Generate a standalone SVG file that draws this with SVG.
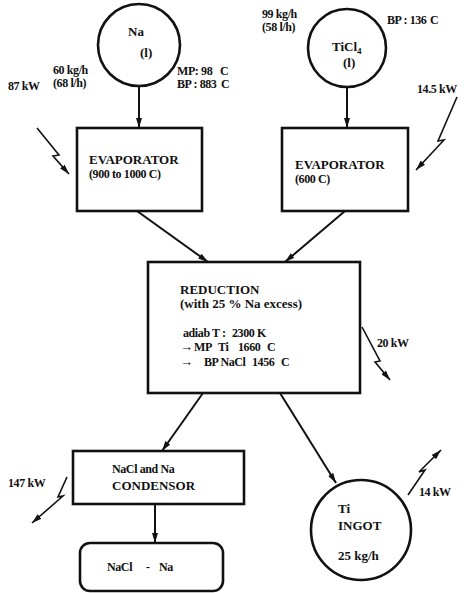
<svg xmlns="http://www.w3.org/2000/svg" width="467" height="593" viewBox="0 0 467 593">
<defs>
<style>
text{font-family:"Liberation Serif","DejaVu Serif",serif;font-size:13px;font-weight:bold;fill:#111}
.s{font-size:12px;letter-spacing:-0.4px}
.ar{font-size:13px;letter-spacing:0}
.box{fill:none;stroke:#111;stroke-width:2.6}
.con{fill:none;stroke:#111;stroke-width:2;marker-end:url(#ah)}
.bolt{fill:none;stroke:#111;stroke-width:1.6;stroke-linejoin:miter;marker-end:url(#ah)}
</style>
<marker id="ah" viewBox="0 0 10 6" refX="10" refY="3" markerWidth="10" markerHeight="6" markerUnits="userSpaceOnUse" orient="auto">
<path d="M0,0 L10,3 L0,6 z" fill="#111"/>
</marker>
</defs>
<rect width="467" height="593" fill="#fff"/>

<g id="connectors">
<line class="con" x1="139" y1="87" x2="139" y2="128"/>
<line class="con" x1="347" y1="88" x2="347" y2="128"/>
<line class="con" x1="137" y1="211" x2="208" y2="262"/>
<line class="con" x1="345" y1="211" x2="285" y2="262"/>
<line class="con" x1="203" y1="393" x2="162" y2="451"/>
<line class="con" x1="280" y1="393" x2="336" y2="483"/>
<line class="con" x1="155" y1="504" x2="155" y2="543"/>
</g>

<g id="na">
<circle class="box" cx="139" cy="45" r="41"/>
<text x="128" y="36">Na</text>
<text x="140" y="57">(l)</text>
<text x="53" y="74" class="s">60 kg/h</text>
<text x="53" y="87" class="s">(68 l/h)</text>
<text x="177" y="75" class="s">MP: 98<tspan x="220">C</tspan></text>
<text x="177" y="88" class="s">BP : 883<tspan x="221">C</tspan></text>
</g>

<g id="ticl4">
<circle class="box" cx="347" cy="48" r="39"/>
<text x="332" y="51">TiCl<tspan font-size="9" dy="3">4</tspan></text>
<text x="343" y="67">(l)</text>
<text x="262" y="18" class="s">99 kg/h</text>
<text x="262" y="31" class="s">(58 l/h)</text>
<text x="387" y="24" class="s">BP : 136<tspan x="430">C</tspan></text>
</g>

<g id="evap-na">
<rect class="box" x="77" y="128" width="125" height="83"/>
<text x="89" y="164">EVAPORATOR</text>
<text x="89" y="178" class="s">(900 to 1000 C)</text>
</g>
<g id="heat-87">
<path class="bolt" d="M37,128 L59,155 L53,156 L69,174"/>
<text x="8" y="90" class="s">87 kW</text>
</g>

<g id="evap-ticl4">
<rect class="box" x="282" y="128" width="126" height="83"/>
<text x="295" y="169">EVAPORATOR</text>
<text x="295" y="183" class="s">(600 C)</text>
</g>
<g id="heat-145">
<path class="bolt" d="M457,97 L438,141 L444,140 L416,170"/>
<text x="417" y="93" class="s">14.5 kW</text>
</g>

<g id="reduction">
<rect class="box" x="148" y="262" width="212" height="131"/>
<text x="180" y="294">REDUCTION</text>
<text x="180" y="308">(with 25 % Na excess)</text>
<text x="183" y="337" class="s">adiab T :<tspan x="232">2300 K</tspan></text>
<text x="180" y="351" class="s"><tspan class="ar">→</tspan><tspan x="194">MP</tspan><tspan x="218">Ti</tspan><tspan x="238">1660</tspan><tspan x="267">C</tspan></text>
<text x="180" y="366" class="s"><tspan class="ar">→</tspan><tspan x="204">BP NaCl</tspan><tspan x="252">1456</tspan><tspan x="281">C</tspan></text>
</g>
<g id="heat-20">
<path class="bolt" d="M362,327 L380,361 L375,362 L390,380"/>
<text x="377" y="347" class="s">20 kW</text>
</g>

<g id="condensor">
<rect class="box" x="73" y="451" width="171" height="53"/>
<text x="112" y="473" class="s">NaCl and Na</text>
<text x="112" y="490">CONDENSOR</text>
</g>
<g id="heat-147">
<path class="bolt" d="M67,477 L58,497 L63,496 L32,523"/>
<text x="8" y="487" class="s">147 kW</text>
</g>

<g id="nacl-na">
<rect class="box" x="80" y="543" width="143" height="48" rx="10"/>
<text x="107" y="571" class="s">NaCl<tspan x="146">-</tspan><tspan x="159">Na</tspan></text>
</g>

<g id="ingot">
<circle class="box" cx="361" cy="530" r="50"/>
<text x="338" y="513">Ti</text>
<text x="338" y="530">INGOT</text>
<text x="338" y="560">25 kg/h</text>
</g>
<g id="heat-14">
<path class="bolt" d="M408,495 L425,470 L419,472 L441,450"/>
<text x="419" y="496" class="s">14 kW</text>
</g>
</svg>
